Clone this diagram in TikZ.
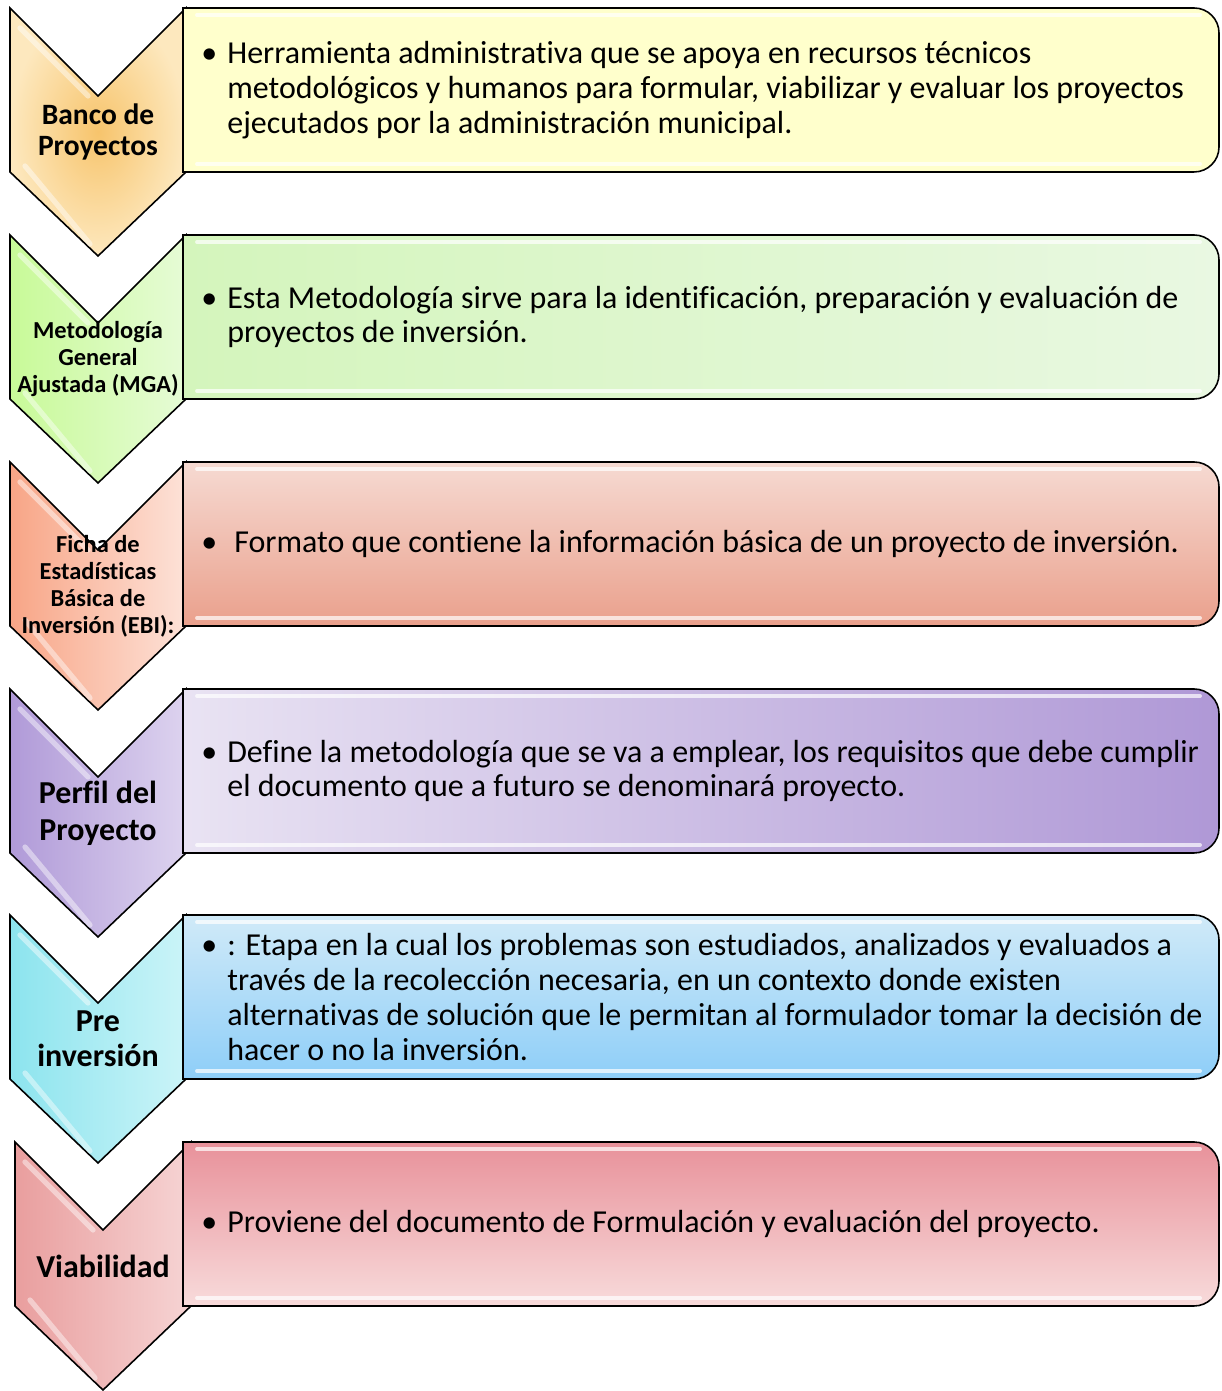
\documentclass[tikz,border=0pt]{standalone}
\usepackage{fontspec}
\setmainfont{Carlito}[Ligatures=NoCommon]

\definecolor{goldIn}{HTML}{F7C46C}
\definecolor{goldOut}{HTML}{FDE8BE}
\definecolor{lemonL}{HTML}{FFFFCC}
\definecolor{lemonM}{HTML}{FFFF8C}
\definecolor{lemonR}{HTML}{FFFFCC}
\definecolor{limeL}{HTML}{C8FA98}
\definecolor{limeR}{HTML}{E6FBD6}
\definecolor{mintL}{HTML}{D4F5BC}
\definecolor{mintM}{HTML}{BEEF92}
\definecolor{mintR}{HTML}{E9F8E2}
\definecolor{salmL}{HTML}{F8A586}
\definecolor{salmR}{HTML}{FDE2D8}
\definecolor{coralT}{HTML}{F6DAD2}
\definecolor{coralB}{HTML}{EAA08C}
\definecolor{lilacL}{HTML}{B09AD8}
\definecolor{lilacR}{HTML}{DDD3EF}
\definecolor{plumL}{HTML}{E9E3F3}
\definecolor{plumR}{HTML}{AF98D6}
\definecolor{aquaL}{HTML}{8CE4EE}
\definecolor{aquaR}{HTML}{CBF4F8}
\definecolor{skyT}{HTML}{D0EAF8}
\definecolor{skyB}{HTML}{8ECEF8}
\definecolor{roseL}{HTML}{E99E9E}
\definecolor{roseR}{HTML}{F6D4D4}
\definecolor{blushT}{HTML}{E8919A}
\definecolor{blushB}{HTML}{F8DBDB}

\begin{document}
\begin{tikzpicture}[x=0.02cm, y=0.02cm,
    chev/.style={draw=black, line width=0.9pt, line join=miter},
    band/.style={draw=black, line width=0.9pt},
    shine/.style={white, line width=2.2pt, line cap=round, opacity=0.7},
    glint/.style={white, line width=3pt, line cap=round, opacity=0.45},
    chevtext/.style={font=\bfseries, align=center, inner sep=0pt},
    info/.style={anchor=west, align=left, inner sep=0pt,
      font=\fontsize{18.2}{19.9}\selectfont}]
  \useasboundingbox (0,0) rectangle (1222,1391);

  % Banco de Proyectos
  \draw[chev, inner color=goldIn, outer color=goldOut] (10,1383) -- (98,1295) -- (186,1383) -- (186,1219) -- (98,1135) -- (10,1219) -- cycle;
  \draw[glint] (20,1363) -- (88,1295);
  \draw[glint] (25,1225) -- (90,1147);
  \draw[band, left color=lemonL, middle color=lemonM, right color=lemonR] (183,1383) -- (1194,1383) arc[start angle=90, end angle=0, radius=25] -- (1219,1244) arc[start angle=0, end angle=-90, radius=25] -- (183,1219) -- cycle;
  \draw[shine] (197,1376) -- (1200,1376);
  \draw[shine] (197,1227) -- (1200,1227);
  \node[chevtext, font=\fontsize{16.8}{18.1}\selectfont\bfseries] (banco) at (98,1259) {Banco de\\Proyectos};
  \node[info] (bancoTxt) at (227,1301) {\llap{\textbullet\hspace{0.2cm}}Herramienta administrativa que se apoya en recursos técnicos\\
    metodológicos y humanos para formular, viabilizar y evaluar los proyectos\\
    ejecutados por la administración municipal.};

  % MGA
  \draw[chev, left color=limeL, right color=limeR] (10,1156) -- (98,1068) -- (186,1156) -- (186,992) -- (98,908) -- (10,992) -- cycle;
  \draw[glint] (20,1136) -- (88,1068);
  \draw[glint] (25,998) -- (90,920);
  \draw[band, left color=mintL, middle color=mintM, right color=mintR] (183,1156) -- (1194,1156) arc[start angle=90, end angle=0, radius=25] -- (1219,1017) arc[start angle=0, end angle=-90, radius=25] -- (183,992) -- cycle;
  \draw[shine] (197,1149) -- (1200,1149);
  \draw[shine] (197,1000) -- (1200,1000);
  \node[chevtext, font=\fontsize{13.9}{15.3}\selectfont\bfseries] (mga) at (98,1032) {Metodología\\General\\Ajustada (MGA)};
  \node[info] (mgaTxt) at (227,1074) {\llap{\textbullet\hspace{0.2cm}}Esta Metodología sirve para la identificación, preparación y evaluación de\\
    proyectos de inversión.};

  % EBI
  \draw[chev, left color=salmL, right color=salmR] (10,929) -- (98,841) -- (186,929) -- (186,765) -- (98,681) -- (10,765) -- cycle;
  \draw[glint] (20,909) -- (88,841);
  \draw[glint] (25,771) -- (90,693);
  \draw[band, top color=coralT, bottom color=coralB] (183,929) -- (1194,929) arc[start angle=90, end angle=0, radius=25] -- (1219,790) arc[start angle=0, end angle=-90, radius=25] -- (183,765) -- cycle;
  \draw[shine] (197,922) -- (1200,922);
  \draw[shine] (197,773) -- (1200,773);
  \node[chevtext, font=\fontsize{13.9}{15.3}\selectfont\bfseries] (ebi) at (98,805) {Ficha de\\Estadísticas\\Básica de\\Inversión (EBI):};
  \node[info] (ebiTxt) at (234,847) {\llap{\textbullet\hspace{0.34cm}}Formato que contiene la información básica de un proyecto de inversión.};

  % Perfil
  \draw[chev, left color=lilacL, right color=lilacR] (10,702) -- (98,614) -- (186,702) -- (186,538) -- (98,454) -- (10,538) -- cycle;
  \draw[glint] (20,682) -- (88,614);
  \draw[glint] (25,544) -- (90,466);
  \draw[band, left color=plumL, right color=plumR] (183,702) -- (1194,702) arc[start angle=90, end angle=0, radius=25] -- (1219,563) arc[start angle=0, end angle=-90, radius=25] -- (183,538) -- cycle;
  \draw[shine] (197,695) -- (1200,695);
  \draw[shine] (197,546) -- (1200,546);
  \node[chevtext, font=\fontsize{18.2}{21}\selectfont\bfseries] (perfil) at (98,578) {Perfil del\\Proyecto};
  \node[info] (perfilTxt) at (227,620) {\llap{\textbullet\hspace{0.2cm}}Define la metodología que se va a emplear, los requisitos que debe cumplir\\
    el documento que a futuro se denominará proyecto.};

  % Pre inversion
  \draw[chev, left color=aquaL, right color=aquaR] (10,476) -- (98,388) -- (186,476) -- (186,312) -- (98,228) -- (10,312) -- cycle;
  \draw[glint] (20,456) -- (88,388);
  \draw[glint] (25,318) -- (90,240);
  \draw[band, top color=skyT, bottom color=skyB] (183,476) -- (1194,476) arc[start angle=90, end angle=0, radius=25] -- (1219,337) arc[start angle=0, end angle=-90, radius=25] -- (183,312) -- cycle;
  \draw[shine] (197,469) -- (1200,469);
  \draw[shine] (197,320) -- (1200,320);
  \node[chevtext, font=\fontsize{18.2}{19.9}\selectfont\bfseries] (pre) at (98,352) {Pre\\inversión};
  \node[info] (preTxt) at (227,394) {\llap{\textbullet\hspace{0.2cm}}: Etapa en la cual los problemas son estudiados, analizados y evaluados a\\
    través de la recolección necesaria, en un contexto donde existen\\
    alternativas de solución que le permitan al formulador tomar la decisión de\\
    hacer o no la inversión.};

  % Viabilidad
  \draw[chev, left color=roseL, right color=roseR] (15,249) -- (103,161) -- (191,249) -- (191,85) -- (103,1) -- (15,85) -- cycle;
  \draw[glint] (25,229) -- (93,161);
  \draw[glint] (30,91) -- (95,13);
  \draw[band, top color=blushT, bottom color=blushB] (183,249) -- (1194,249) arc[start angle=90, end angle=0, radius=25] -- (1219,110) arc[start angle=0, end angle=-90, radius=25] -- (183,85) -- cycle;
  \draw[shine] (197,242) -- (1200,242);
  \draw[shine] (197,93) -- (1200,93);
  \node[chevtext, font=\fontsize{18.2}{20}\selectfont\bfseries] (viab) at (103,125) {Viabilidad};
  \node[info] (viabTxt) at (227,167) {\llap{\textbullet\hspace{0.2cm}}Proviene del documento de Formulación y evaluación del proyecto.};
\end{tikzpicture}
\end{document}
